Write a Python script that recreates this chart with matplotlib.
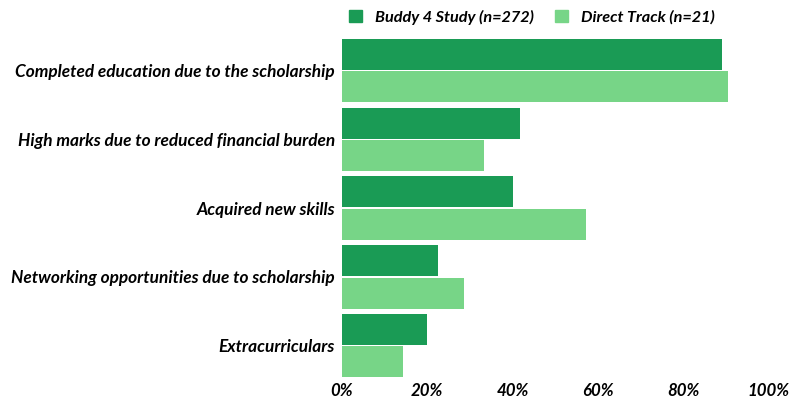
import matplotlib
matplotlib.use("Agg")
import matplotlib.pyplot as plt
import numpy as np
from matplotlib.patches import Patch

categories = [
    "Completed education due to the scholarship",
    "High marks due to reduced financial burden",
    "Acquired new skills",
    "Networking opportunities due to scholarship",
    "Extracurriculars",
]
buddy = [89.1, 41.7, 40.2, 22.6, 19.9]
direct = [90.5, 33.3, 57.1, 28.6, 14.3]
series_names = ["Buddy 4 Study (n=272)", "Direct Track (n=21)"]
xticks = [0, 20, 40, 60, 80, 100]
xtick_labels = ["0%", "20%", "40%", "60%", "80%", "100%"]

dark = "#1a9b55"
light = "#77d587"

plt.rcParams['font.family'] = ['Lato', 'DejaVu Sans']

fig = plt.figure(figsize=(8.07, 4.01), dpi=100)
ax = fig.add_axes([342/807, (401-377.3)/401, (768.5-342)/807, (377.3-39)/401])

y = np.arange(len(categories))
h = 0.45
off = 0.236
ax.barh(y - off, buddy, height=h, color=dark, label=series_names[0])
ax.barh(y + off, direct, height=h, color=light, label=series_names[1])

ax.set_ylim(len(categories) - 1 + off + h/2, -off - h/2)
ax.set_xlim(0, 100)
ax.set_yticks(y)
ax.set_yticklabels(categories, fontsize=12.4, fontweight='bold', fontstyle='italic')
ax.set_xticks(xticks)
ax.set_xticklabels(xtick_labels, fontsize=12.2, fontweight='bold', fontstyle='italic')
ax.tick_params(axis='both', length=0)
ax.tick_params(axis='y', pad=5)
ax.tick_params(axis='x', pad=4)
for s in ax.spines.values():
    s.set_visible(False)

handles = [Patch(color=dark), Patch(color=light)]
fig.legend(handles, series_names, loc='center', bbox_to_anchor=(532/807, 1 - 17/401),
           ncol=2, frameon=False, prop={'size': 11.7, 'weight': 'bold', 'style': 'italic'},
           handlelength=0.8, handleheight=0.8, columnspacing=1.3, handletextpad=0.8)

fig.savefig("out.png", dpi=100, facecolor="white")
